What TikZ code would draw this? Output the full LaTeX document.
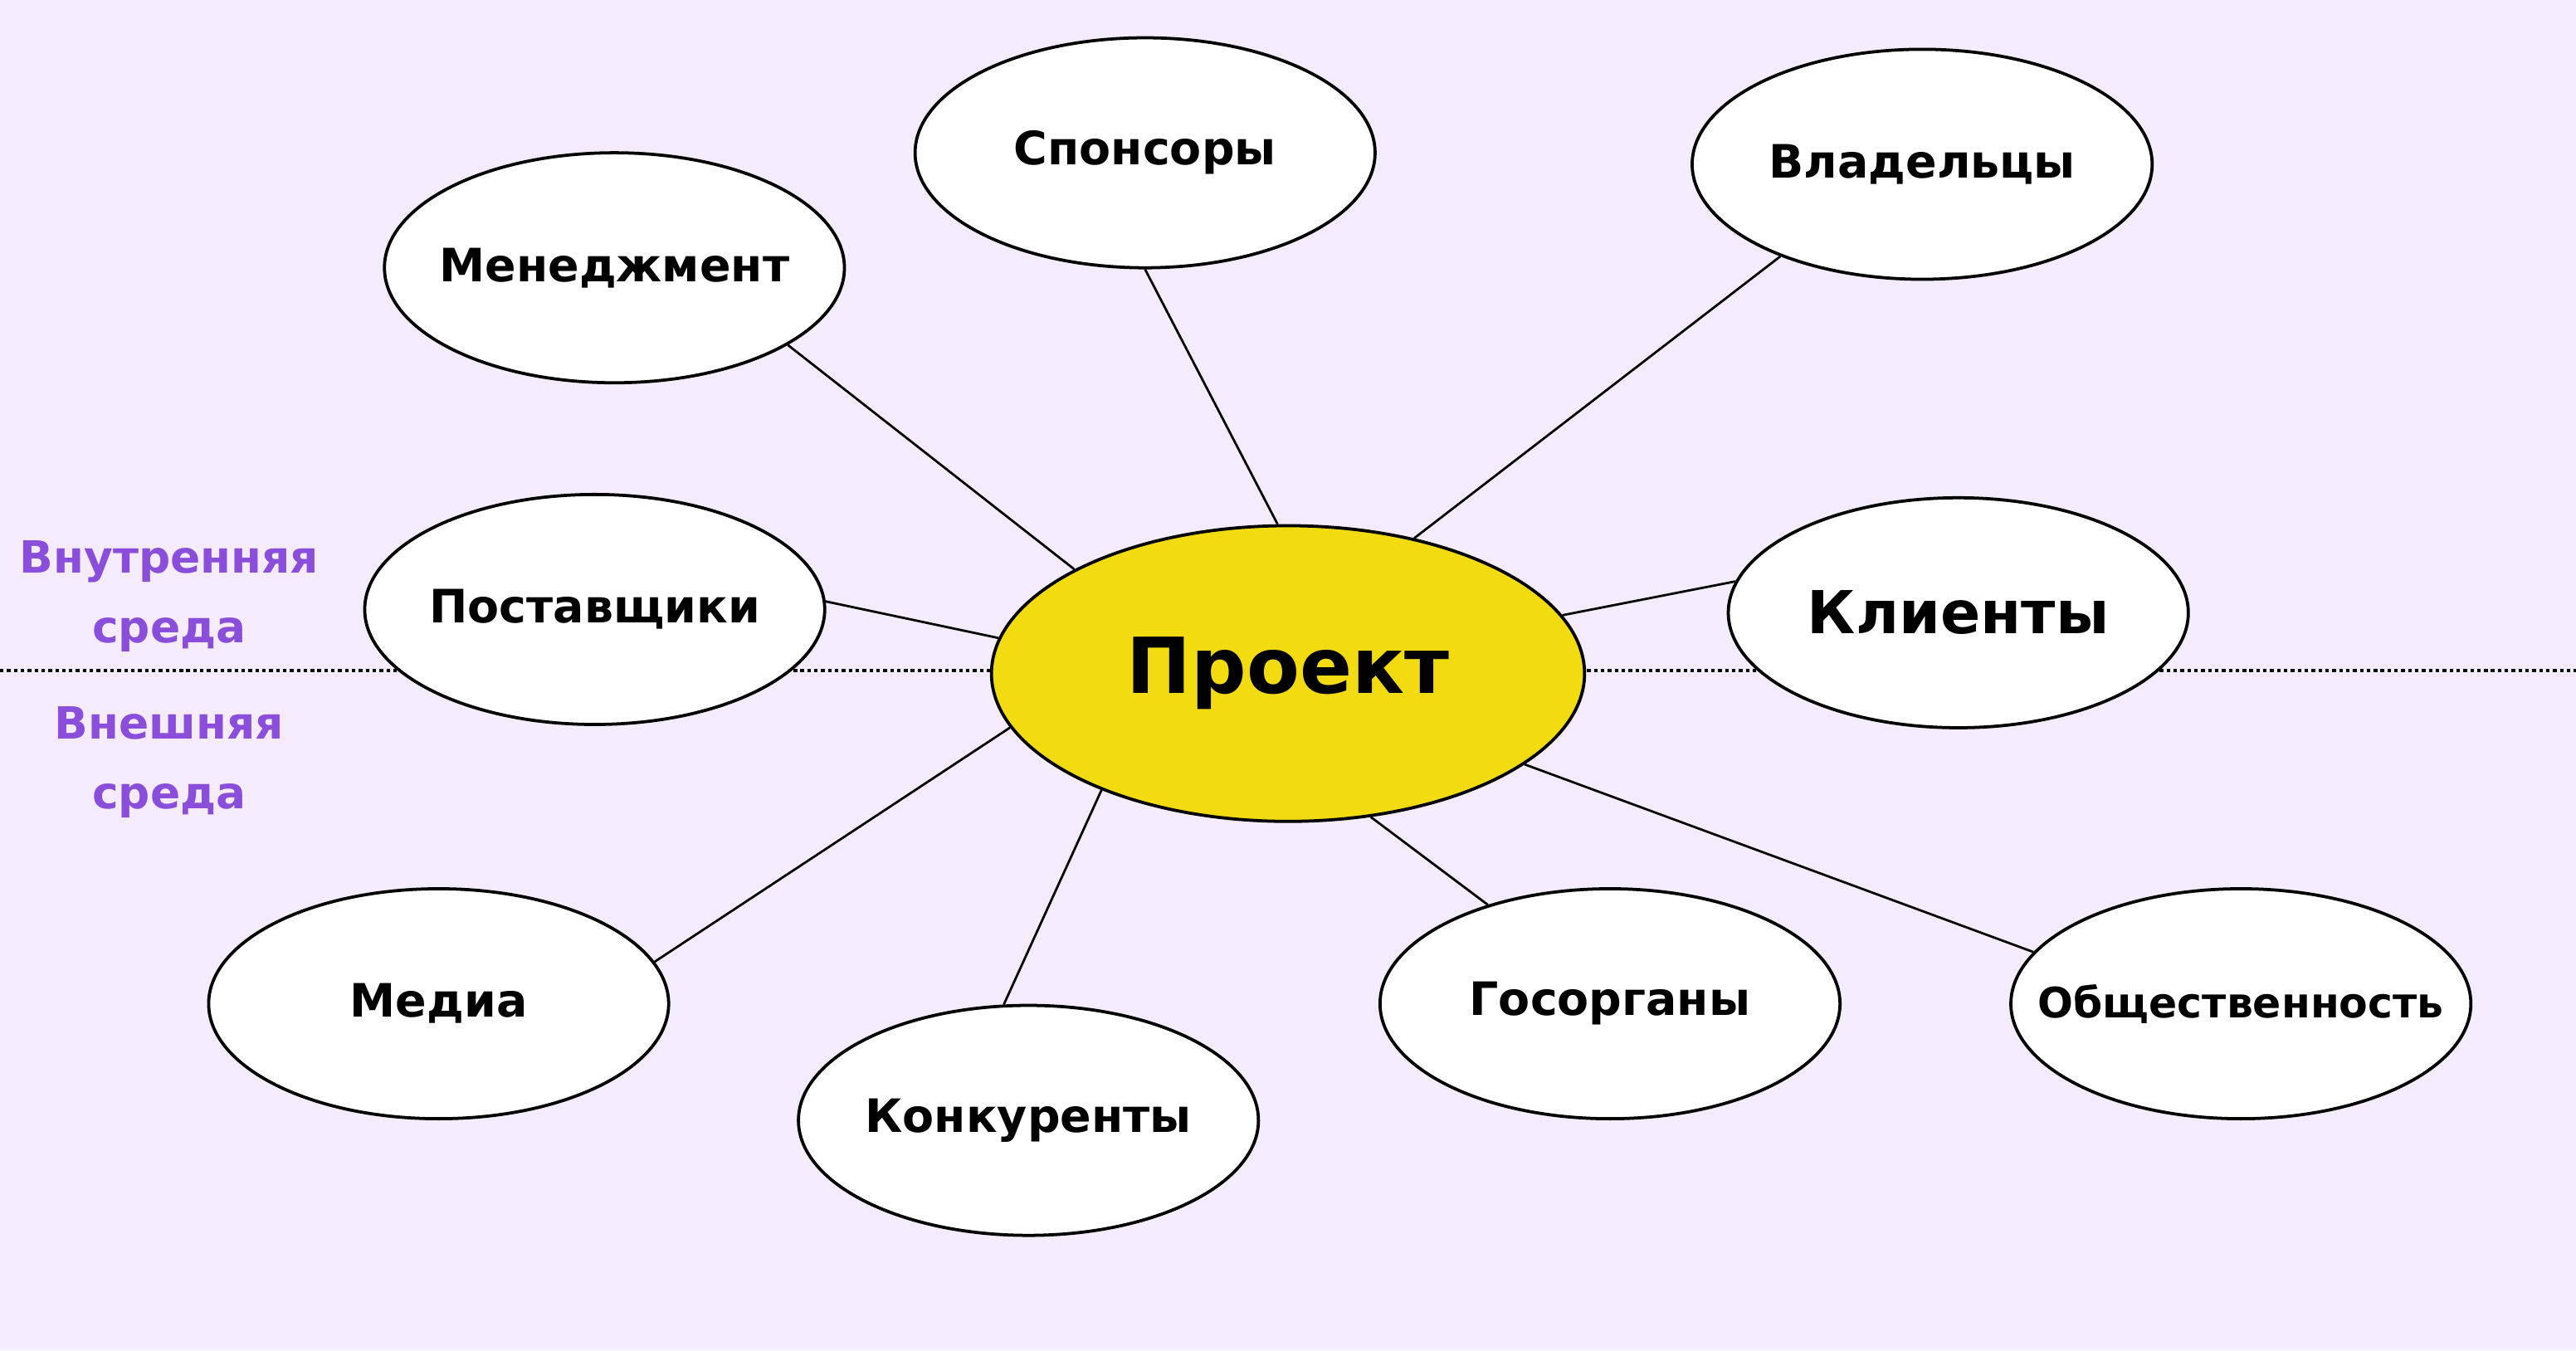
\documentclass[tikz,border=0pt]{standalone}
\usepackage{fontspec}
\setmainfont{DejaVu Sans}
\usetikzlibrary{shapes.geometric}
\definecolor{bg}{HTML}{F4ECFD}
\definecolor{sun}{HTML}{F2DC11}
\definecolor{lilac}{HTML}{8A4EDB}

\begin{document}
\begin{tikzpicture}[x=1pt, y=-1pt,
    stake/.style={ellipse, draw, fill=white, line width=1.9pt,
      minimum width=280pt, minimum height=140pt, inner ysep=0pt, inner xsep=-30pt,
      font=\fontsize{28}{34}\bfseries},
    core/.style={stake, fill=sun, minimum width=361pt, minimum height=180pt,
      font=\fontsize{47}{56}\bfseries},
    side/.style={text=lilac, align=center, font=\fontsize{27}{42}\bfseries},
    link/.style={line width=1.4pt}]

  \fill[bg] (0,0) rectangle (1568,822);
  \useasboundingbox (0,0) rectangle (1568,822);
  \draw[line width=1.9pt, dash pattern=on 2.2pt off 2pt] (0,408) -- (1568,408);

  \node[side] (In) at (103,363) {Внутренняя\\среда};
  \node[side] (Out) at (103,464) {Внешняя\\среда};

  \node[core] (P) at (784,410) {Проект};
  \node[stake] (S) at (697,93) {Спонсоры};
  \node[stake] (M) at (374,163) {Менеджмент};
  \node[stake] (V) at (1170,100) {Владельцы};
  \node[stake] (Po) at (362,371) {Поставщики};
  \node[stake, font=\fontsize{36}{42}\bfseries] (K) at (1192,373) {Клиенты};
  \node[stake] (Me) at (267,611) {Медиа};
  \node[stake] (Ko) at (626,682) {Конкуренты};
  \node[stake] (G) at (980,611) {Госорганы};
  \node[stake, font=\fontsize{25.5}{30}\bfseries] (O) at (1364,611) {Общественность};

  \draw[link] (S.-90) -- (P.94);
  \draw[link] (M.-24) -- (P.154);
  \draw[link] (V.-147) -- (P.47);
  \draw[link] (Po.2) -- (P.173);
  \draw[link] (K.172) -- (P.12);
  \draw[link] (Me.11) -- (P.-169);
  \draw[link] (Ko.102) -- (P.-148);
  \draw[link] (G.141) -- (P.-60);
  \draw[link] (O.166) -- (P.-21);
\end{tikzpicture}
\end{document}
